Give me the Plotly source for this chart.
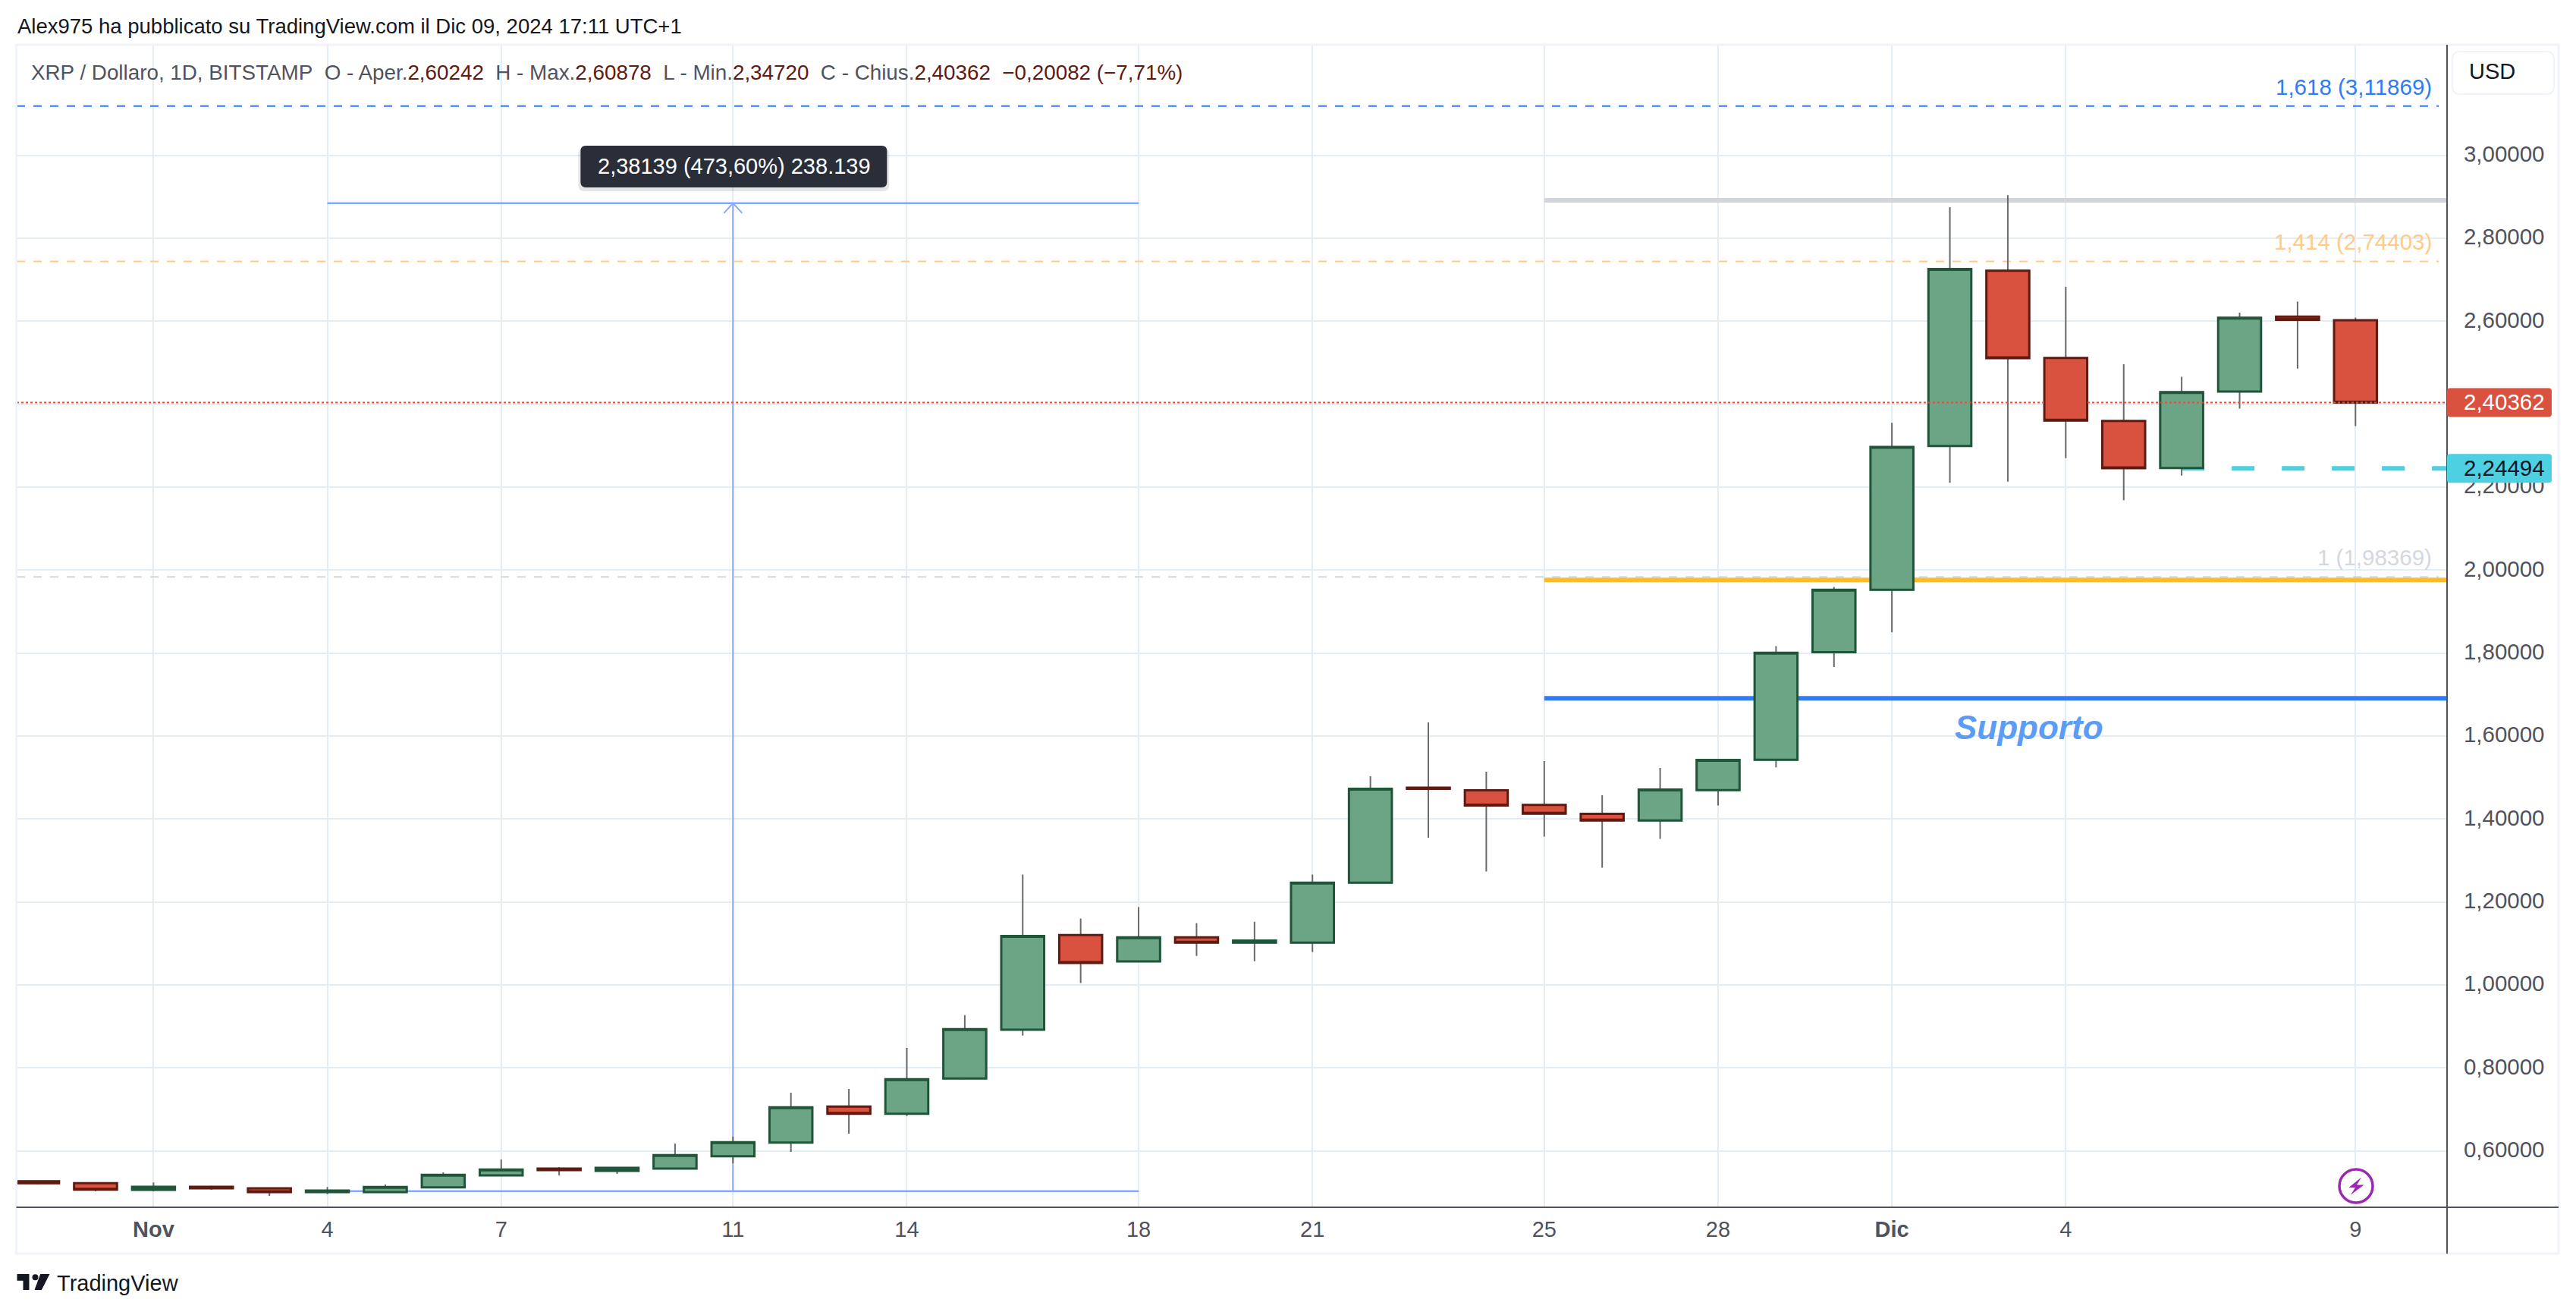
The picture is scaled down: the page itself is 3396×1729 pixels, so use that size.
import numpy as np
import plotly.graph_objects as go

# --- donnees ---
dates = ["2024-10-30", "2024-10-31", "2024-11-01", "2024-11-02", "2024-11-03", "2024-11-04", "2024-11-05",
         "2024-11-06", "2024-11-07", "2024-11-08", "2024-11-09", "2024-11-10", "2024-11-11", "2024-11-12",
         "2024-11-13", "2024-11-14", "2024-11-15", "2024-11-16", "2024-11-17", "2024-11-18", "2024-11-19",
         "2024-11-20", "2024-11-21", "2024-11-22", "2024-11-23", "2024-11-24", "2024-11-25", "2024-11-26",
         "2024-11-27", "2024-11-28", "2024-11-29", "2024-11-30", "2024-12-01", "2024-12-02", "2024-12-03",
         "2024-12-04", "2024-12-05", "2024-12-06", "2024-12-07", "2024-12-08", "2024-12-09"]
opens = [0.5268, 0.5220, 0.5060, 0.5134, 0.5098, 0.5006, 0.5006, 0.5122, 0.5409, 0.5573, 0.5518, 0.5573, 0.5872,
         0.6201, 0.7067, 0.6896, 0.7745, 0.8921, 1.1201, 1.0567, 1.1146, 1.1018, 1.1018, 1.2463, 1.4756, 1.4689,
         1.4341, 1.4122, 1.3963, 1.4695, 1.5427, 1.8021, 1.9523, 2.2992, 2.7214, 2.5114, 2.3595, 2.2460, 2.4302,
         2.6108, 2.60242]
highs = [0.5275, 0.5225, 0.5238, 0.5159, 0.5116, 0.5128, 0.5189, 0.5482, 0.5793, 0.5610, 0.5610, 0.6177, 0.6341,
         0.7402, 0.7494, 0.8482, 0.9274, 1.2659, 1.1598, 1.1872, 1.1488, 1.1524, 1.2659, 1.5030, 1.6329, 1.5140,
         1.5396, 1.4573, 1.5232, 1.5451, 1.8164, 1.9595, 2.3547, 2.8747, 2.9034, 2.6829, 2.4960, 2.4659, 2.6206,
         2.6472, 2.60878]
lows = [0.5195, 0.5024, 0.5024, 0.5061, 0.4915, 0.4957, 0.4995, 0.5115, 0.5390, 0.5409, 0.5445, 0.5555, 0.5701,
        0.5976, 0.6415, 0.6841, 0.7720, 0.8780, 1.0043, 1.0560, 1.0701, 1.0573, 1.0793, 1.2455, 1.3549, 1.2732,
        1.3573, 1.2823, 1.3518, 1.4323, 1.5244, 1.7661, 1.8498, 2.2103, 2.2132, 2.2700, 2.1684, 2.2279, 2.3889,
        2.4855, 2.34720]
closes = [0.5220, 0.5067, 0.5134, 0.5098, 0.5006, 0.5043, 0.5128, 0.5421, 0.5549, 0.5537, 0.5591, 0.5896, 0.6207,
          0.7049, 0.6896, 0.7726, 0.8933, 1.1177, 1.0530, 1.1146, 1.1018, 1.1067, 1.2463, 1.4726, 1.4726, 1.4323,
          1.4128, 1.3963, 1.4707, 1.5421, 1.8008, 1.9523, 2.2966, 2.7256, 2.5107, 2.3602, 2.2454, 2.4288, 2.6080,
          2.6031, 2.40362]

x_tick_dates = ["2024-11-01", "2024-11-04", "2024-11-07", "2024-11-11", "2024-11-14", "2024-11-18", "2024-11-21",
                "2024-11-25", "2024-11-28", "2024-12-01", "2024-12-04", "2024-12-09"]
x_tick_labels = ["<b>Nov</b>", "4", "7", "11", "14", "18", "21", "25", "28", "<b>Dic</b>", "4", "9"]
y_ticks = [0.6, 0.8, 1.0, 1.2, 1.4, 1.6, 1.8, 2.0, 2.2, 2.4, 2.6, 2.8, 3.0]

fib_levels = [3.11869, 2.74403, 1.98369]
fib_labels = ["1,618 (3,11869)", "1,414 (2,74403)", "1 (1,98369)"]
fib_colors = ["#2F7CF6", "#FFCB87", "#D5D7DF"]

zone_levels = [2.891, 1.976, 1.691]
zone_colors = ["#D1D4DC", "#F9BC2D", "#2F7CF6"]
zone_start = "2024-11-25"

measure_start = "2024-11-04"
measure_mid = "2024-11-11"
measure_end = "2024-11-18"
measure_low = 0.50282
measure_high = 2.88421

last_price = 2.40362
cyan_level = 2.24494
cyan_start = "2024-12-06"

x_range = ["2024-10-29 15:20", "2024-12-10 13:55"]
y_range = [0.464, 3.268]
fib_end = "2024-12-10 10:30"

# --- mise en page, en pixels de l'image ---
W, H = 3396, 1729
OFF = 8  # marge par defaut du body de la page
L, R, T, B = 21.5, 3226, 58, 1591
TEXT = "#50535E"
FONT = "Liberation Sans"


def px(x):
    return (x - L) / (R - L)


def py(y):
    return (B - y) / (B - T)


def ypix(v):
    return T + (y_range[1] - v) / (y_range[1] - y_range[0]) * (B - T)


def note(x, y, text, size=29.5, color=TEXT, anchor="left", **kw):
    fig.add_annotation(xref="paper", yref="paper", x=px(x), y=py(y), text=text, showarrow=False,
                       xanchor=anchor, yanchor="middle", font=dict(family=FONT, size=size, color=color),
                       borderpad=0, **kw)


def round_box(x0, y0, x1, y1, r):
    a = [(x0 + r, y0), (x1 - r, y0)]
    p = "M%f,%f L%f,%f" % (px(a[0][0]), py(a[0][1]), px(a[1][0]), py(a[1][1]))
    p += " Q%f,%f %f,%f" % (px(x1), py(y0), px(x1), py(y0 + r))
    p += " L%f,%f" % (px(x1), py(y1 - r))
    p += " Q%f,%f %f,%f" % (px(x1), py(y1), px(x1 - r), py(y1))
    p += " L%f,%f" % (px(x0 + r), py(y1))
    p += " Q%f,%f %f,%f" % (px(x0), py(y1), px(x0), py(y1 - r))
    p += " L%f,%f" % (px(x0), py(y0 + r))
    p += " Q%f,%f %f,%f Z" % (px(x0), py(y0), px(x0 + r), py(y0))
    return p


def poly(points, close=True):
    return "M" + " L".join("%f,%f" % (px(a), py(b)) for a, b in points) + (" Z" if close else "")


def paper_shape(path, fill, line_color=None, line_width=0):
    fig.add_shape(type="path", xref="paper", yref="paper", path=path, fillcolor=fill, layer="above",
                  line=dict(color=line_color or fill, width=line_width))


def level_line(x0, x1, y, color, width, dash="solid", layer="between"):
    fig.add_shape(type="line", xref="x", yref="y", x0=x0, x1=x1, y0=y, y1=y, layer=layer,
                  line=dict(color=color, width=width, dash=dash))


fig = go.Figure()

# les meches grises d'abord, les corps par dessus
fig.add_trace(go.Candlestick(x=dates, open=opens, high=highs, low=lows, close=closes, whiskerwidth=0,
                             increasing=dict(line=dict(color="#6A6A6A", width=2), fillcolor="#6CA585"),
                             decreasing=dict(line=dict(color="#6A6A6A", width=2), fillcolor="#D95240")))
fig.add_trace(go.Candlestick(x=dates, open=opens, close=closes, whiskerwidth=0,
                             high=np.maximum(opens, closes), low=np.minimum(opens, closes),
                             increasing=dict(line=dict(color="#1F5539", width=3), fillcolor="#6CA585"),
                             decreasing=dict(line=dict(color="#5F1A12", width=3), fillcolor="#D95240")))

for lev, col in zip(fib_levels, fib_colors):
    level_line(x_range[0], fib_end, lev, col, 2, "11px,11px")
for lev, col in zip(zone_levels, zone_colors):
    level_line(zone_start, x_range[1], lev, col, 6)
level_line(measure_start, measure_end, measure_low, "#86A9FF", 2.5)
level_line(measure_start, measure_end, measure_high, "#86A9FF", 2.5)
fig.add_shape(type="line", xref="x", yref="y", x0=measure_mid, x1=measure_mid, y0=measure_low, y1=measure_high,
              layer="between", line=dict(color="#86A9FF", width=2))
level_line(cyan_start, x_range[1], cyan_level, "#4DD0E1", 6, "30px,36px")
level_line(x_range[0], x_range[1], last_price, "#D95240", 2, "3px,3px", layer="above")

fig.update_layout(
    width=W - 2 * OFF, height=H - 2 * OFF,
    margin=dict(l=L - OFF, r=W - R - OFF, t=T - OFF, b=H - B - OFF, autoexpand=False),
    paper_bgcolor="white", plot_bgcolor="white", showlegend=False, separators=",.",
    boxmode="overlay", boxgap=0.26, boxgroupgap=0,
    xaxis=dict(type="date", range=x_range, tickvals=x_tick_dates, ticktext=x_tick_labels, showgrid=True,
               gridcolor="#E4EDF3", gridwidth=2, rangeslider=dict(visible=False), zeroline=False,
               ticks="outside", ticklen=3, tickcolor="rgba(0,0,0,0)", showline=False,
               tickfont=dict(family=FONT, size=29, color=TEXT)),
    yaxis=dict(side="right", range=y_range, tickvals=y_ticks, tickformat=".5f", showgrid=True,
               gridcolor="#E4EDF3", gridwidth=2, zeroline=False, ticks="outside", ticklen=15,
               tickcolor="rgba(0,0,0,0)", showline=False, ticklabelshift=-2,
               tickfont=dict(family=FONT, size=29.5, color=TEXT)),
)

# cadre et axes
fig.add_shape(type="rect", xref="paper", yref="paper", x0=px(21), x1=px(3373), y0=py(59), y1=py(1652),
              layer="above", line=dict(color="#F0F3FA", width=3))
fig.add_shape(type="line", xref="paper", yref="paper", x0=px(R), x1=px(R), y0=py(59), y1=py(1652), layer="above",
              line=dict(color=TEXT, width=2))
fig.add_shape(type="line", xref="paper", yref="paper", x0=px(21), x1=px(3373), y0=py(B), y1=py(B), layer="above",
              line=dict(color=TEXT, width=2))

# pointe de la fleche de mesure
tip_y = ypix(measure_high)
fig.add_shape(type="path", xref="paper", yref="paper", layer="between",
              path=poly([(954, tip_y + 13), (966, tip_y), (978, tip_y + 13)], close=False),
              line=dict(color="#86A9FF", width=2))

# etiquettes de prix sur l'axe
red_y = ypix(last_price)
cyan_y = ypix(cyan_level)
paper_shape(round_box(R, red_y - 19, 3364, red_y + 19, 4), "#D95240")
paper_shape(round_box(R, cyan_y - 19, 3364, cyan_y + 19, 4), "#4DD0E1")
note(3247, red_y - 1, "2,40362", color="white")
note(3247, cyan_y - 1, "2,24494", color="#131722")

# bouton USD
paper_shape(round_box(3233, 68, 3367, 124, 10), "white", "#F0F3FA", 2)
note(3286, 94, "USD", size=29, color="#131722", anchor="center")

# bulle de la mesure
paper_shape(round_box(762, 195, 1172, 252, 8), "rgba(0,0,0,0.10)")
paper_shape(round_box(765, 192, 1169, 247, 7), "#2A2E39")
note(968, 219.5, "2,38139 (473,60%) 238.139", size=29, color="white", anchor="center")

# niveaux de Fibonacci
for lab, lev, col in zip(fib_labels, [114.7, 318.6, 734], fib_colors):
    note(3207, lev, lab, color=col, anchor="right")
note(2675, 958, "<b><i>Supporto</i></b>", size=44, color="#5B9CF6", anchor="center")

# en-tete
note(22, 34, "Alex975 ha pubblicato su TradingView.com il Dic 09, 2024 17:11 UTC+1", size=27.5, color="#131722")
val = '<span style="color:#5F1A12">%s</span>'
nb = "\u00a0\u00a0"
legend = ("XRP / Dollaro, 1D, BITSTAMP" + nb + "O - Aper." + val % "2,60242" + nb + "H - Max." + val % "2,60878"
          + nb + "L - Min." + val % "2,34720" + nb + "C - Chius." + val % "2,40362" + nb + val % "\u22120,20082 (\u22127,71%)")
note(40, 95, legend, size=27.8)

# badge eclair
fig.add_shape(type="circle", xref="paper", yref="paper", x0=px(3080), x1=px(3132), y0=py(1537), y1=py(1589),
              layer="above", fillcolor="white", line=dict(width=0))
fig.add_shape(type="circle", xref="paper", yref="paper", x0=px(3084), x1=px(3128), y0=py(1541), y1=py(1585),
              layer="above", fillcolor="white", line=dict(color="#9C27B0", width=3.5))
bolt = [(3113, 1551.5), (3096.5, 1565), (3105, 1565), (3099, 1574.5), (3116.5, 1561.5), (3107, 1561.5)]
paper_shape(poly(bolt), "#9C27B0")

# logo TradingView
logo_t = [(22, 1679), (38, 1679), (38, 1700), (30, 1700), (30, 1687.7), (22, 1687.7)]
logo_slash = [(52.7, 1679), (65, 1679), (54.3, 1700), (45, 1700)]
paper_shape(poly(logo_t), "#131722")
paper_shape(poly(logo_slash), "#131722")
fig.add_shape(type="circle", xref="paper", yref="paper", x0=px(42), x1=px(50), y0=py(1679.3), y1=py(1687.3),
              layer="above", fillcolor="#131722", line=dict(width=0))
note(74, 1691, "TradingView", size=29, color="#131722")

fig.write_html("out.html")
